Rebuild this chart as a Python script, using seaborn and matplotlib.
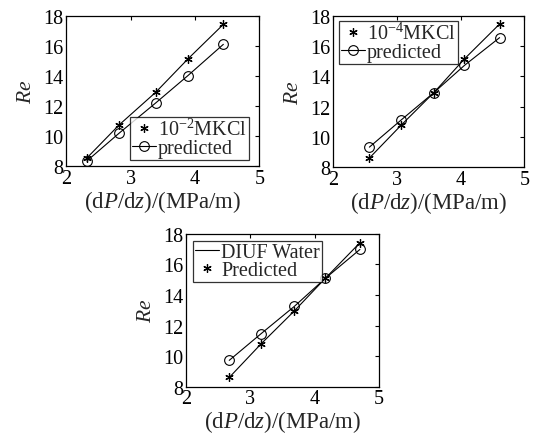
import numpy as np
import pandas as pd
import matplotlib
matplotlib.use("Agg")
import matplotlib.pyplot as plt
import seaborn as sns
from matplotlib.lines import Line2D

sns.set_style("white")
plt.rcParams['font.family'] = ['Liberation Serif', 'DejaVu Serif']
plt.rcParams['mathtext.fontset'] = 'custom'
plt.rcParams['mathtext.rm'] = 'Liberation Serif'
plt.rcParams['mathtext.it'] = 'Liberation Serif:italic'

# Panel 1: 10^-2 M KCl
p1_x = [2.32, 2.82, 3.39, 3.89, 4.44]
p1_meas = [8.55, 10.75, 12.93, 15.15, 17.45]
p1_pred = [8.35, 10.2, 12.22, 14.04, 16.12]
# Panel 2: 10^-4 M KCl
p2_x = [2.57, 3.07, 3.58, 4.06, 4.61]
p2_meas = [8.6, 10.78, 12.92, 15.15, 17.45]
p2_pred = [9.32, 11.12, 12.92, 14.72, 16.55]
# Panel 3: DIUF water
p3_x = [2.67, 3.16, 3.68, 4.16, 4.70]
p3_meas = [8.6, 10.78, 12.95, 15.08, 17.42]
p3_pred = [9.72, 11.45, 13.25, 15.08, 16.98]

xticks = [2, 3, 4, 5]
yticks = [8, 10, 12, 14, 16, 18]

ASTER = (6, 2, 0)

fig = plt.figure(figsize=(5.41, 4.39), dpi=100)
ax1 = fig.add_axes([0.1225, 0.619, 0.357, 0.342])
ax2 = fig.add_axes([0.6155, 0.617, 0.354, 0.345])
ax3 = fig.add_axes([0.344, 0.117, 0.357, 0.348])

panels = [
    (ax1, p1_x, p1_meas, p1_pred, ["10$^{-2}$MKCl", "predicted"], "star_circ",
     dict(loc='lower right', bbox_to_anchor=(0.945, 0.04))),
    (ax2, p2_x, p2_meas, p2_pred, ["10$^{-4}$MKCl", "predicted"], "star_circ",
     dict(loc='upper left', bbox_to_anchor=(0.03, 0.966))),
    (ax3, p3_x, p3_meas, p3_pred, ["DIUF Water", "Predicted"], "line_star",
     dict(loc='upper left', bbox_to_anchor=(0.035, 0.952))),
]

for ax, xs, meas, pred, labels, kind, lkw in panels:
    df = pd.DataFrame({"x": xs + xs, "Re": meas + pred,
                       "series": ["meas"] * len(xs) + ["pred"] * len(xs)})
    dm = df[df.series == "meas"]
    dp = df[df.series == "pred"]
    sns.lineplot(data=dm, x="x", y="Re", ax=ax, color="black", lw=0.8,
                 marker=ASTER, markersize=6, markeredgewidth=0.9,
                 markeredgecolor="black", estimator=None, sort=False)
    sns.lineplot(data=dp, x="x", y="Re", ax=ax, color="black", lw=0.8,
                 marker="o", markersize=7, markerfacecolor="none",
                 markeredgewidth=0.8, markeredgecolor="black",
                 estimator=None, sort=False)
    ax.set_xlim(2, 5)
    ax.set_ylim(8, 18)
    ax.set_xticks(xticks)
    ax.set_yticks(yticks)
    ax.tick_params(direction='in', top=True, right=True, length=3,
                   width=0.8, labelsize=14.5, pad=2, colors='black')
    for s in ax.spines.values():
        s.set_color('black')
        s.set_linewidth(0.9)
    ax.set_xlabel("(d$P$/d$z$)/(MPa/m)", fontsize=16.5, labelpad=0)
    ax.set_ylabel("$Re$", fontsize=15.5, labelpad=5)
    if kind == "star_circ":
        handles = [Line2D([], [], color='black', lw=0, marker=ASTER,
                          markersize=6, markeredgewidth=0.9),
                   Line2D([], [], color='black', lw=0.8, marker='o',
                          markersize=7, markerfacecolor='none',
                          markeredgewidth=0.8)]
    else:
        handles = [Line2D([], [], color='black', lw=0.8),
                   Line2D([], [], color='black', lw=0, marker=ASTER,
                          markersize=6, markeredgewidth=0.9)]
    leg = ax.legend(handles, labels, fontsize=14.5, frameon=True, fancybox=False,
                    borderaxespad=0, handlelength=1.2, handletextpad=0.1,
                    borderpad=0.1, labelspacing=-0.05, **lkw)
    leg.get_frame().set_edgecolor('black')
    leg.get_frame().set_linewidth(0.9)

fig.savefig("out.png", dpi=100)
